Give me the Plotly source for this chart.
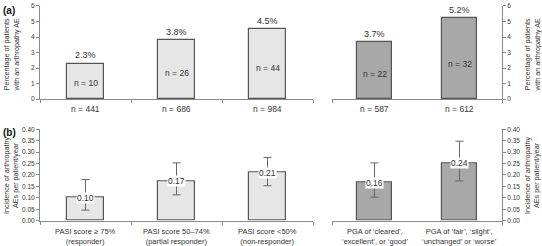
import plotly.graph_objects as go

# ---- data ----
top_left_cats = ["n = 441", "n = 686", "n = 984"]
top_right_cats = ["n = 587", "n = 612"]
top_left_pct = [2.3, 3.8, 4.5]
top_right_pct = [3.7, 5.2]
top_left_events = ["n = 10", "n = 26", "n = 44"]
top_right_events = ["n = 22", "n = 32"]

bot_left_cats = ["PASI score \u2265 75%<br>(responder)",
                 "PASI score 50\u201374%<br>(partial responder)",
                 "PASI score <50%<br>(non-responder)"]
bot_right_cats = ["PGA of \u2018cleared\u2019,<br>\u2018excellent\u2019, or \u2018good\u2019",
                  "PGA of \u2018fair\u2019, \u2018slight\u2019,<br>\u2018unchanged\u2019 or \u2018worse\u2019"]
bot_left_rate = [0.10, 0.173, 0.21]
bot_right_rate = [0.166, 0.252]
bot_left_labels = ["0.10", "0.17", "0.21"]
bot_right_labels = ["0.16", "0.24"]
bot_left_upper = [0.18, 0.253, 0.277]
bot_left_lower = [0.046, 0.113, 0.153]
bot_right_upper = [0.253, 0.348]
bot_right_lower = [0.103, 0.174]

LIGHT = "#e6e6e6"
DARK = "#a8a8a8"
EDGE = "#555555"
AXIS = "#8a8a8a"
TXT = "#333333"
FONT = "Liberation Sans, Arial, sans-serif"

W, H = 542, 246
def px(x): return x / W
def py(y): return 1 - y / H

fig = go.Figure()

def add_bars(cats, vals, color, xa, ya, width, err=None):
    kw = {}
    if err is not None:
        up, lo = err
        kw["error_y"] = dict(type="data", symmetric=False,
                             array=[u - v for u, v in zip(up, vals)],
                             arrayminus=[v - l for v, l in zip(vals, lo)],
                             color="#666666", thickness=1, width=4)
    fig.add_trace(go.Bar(x=cats, y=vals, xaxis=xa, yaxis=ya, width=width,
                         marker=dict(color=color, line=dict(color=EDGE, width=1.2)),
                         showlegend=False, hoverinfo="skip", **kw))

add_bars(top_left_cats, top_left_pct, LIGHT, "x", "y", 0.4)
add_bars(top_right_cats, top_right_pct, DARK, "x2", "y2", 0.41)
add_bars(bot_left_cats, bot_left_rate, LIGHT, "x3", "y3", 0.4, (bot_left_upper, bot_left_lower))
add_bars(bot_right_cats, bot_right_rate, DARK, "x4", "y4", 0.41, (bot_right_upper, bot_right_lower))

ann = []
def pct_labels(cats, vals, events, xr, yr):
    for c, v, e in zip(cats, vals, events):
        ann.append(dict(x=c, y=v, xref=xr, yref=yr, text=f"{v:.1f}%", showarrow=False,
                        yanchor="bottom", yshift=1, font=dict(size=9, color=TXT, family=FONT)))
        ann.append(dict(x=c, y=v * 0.44, xref=xr, yref=yr, text=e, showarrow=False,
                        font=dict(size=8.5, color=TXT, family=FONT)))
        # sample size under the axis
        ann.append(dict(x=c, y=py(101), xref=xr, yref="paper", text=c, showarrow=False,
                        yanchor="top", font=dict(size=8.5, color=TXT, family=FONT)))
pct_labels(top_left_cats, top_left_pct, top_left_events, "x", "y")
pct_labels(top_right_cats, top_right_pct, top_right_events, "x2", "y2")

def rate_labels(cats, vals, labels, xr, yr):
    for c, v, l in zip(cats, vals, labels):
        ann.append(dict(x=c, y=v, xref=xr, yref=yr, text=l, showarrow=False,
                        bgcolor="white", borderpad=0,
                        font=dict(size=8.5, color=TXT, family=FONT)))
        ann.append(dict(x=c, y=py(227), xref=xr, yref="paper", text=c, showarrow=False,
                        yanchor="top", font=dict(size=7.5, color=TXT, family=FONT)))
rate_labels(bot_left_cats, bot_left_rate, bot_left_labels, "x3", "y3")
rate_labels(bot_right_cats, bot_right_rate, bot_right_labels, "x4", "y4")

# panel labels and axis titles
ann.append(dict(x=px(1), y=py(7), xref="paper", yref="paper", text="<b>(a)</b>", showarrow=False,
                xanchor="left", yanchor="middle", font=dict(size=10, color="#111", family=FONT)))
ann.append(dict(x=px(1), y=py(132), xref="paper", yref="paper", text="<b>(b)</b>", showarrow=False,
                xanchor="left", yanchor="middle", font=dict(size=10, color="#111", family=FONT)))
for xp, yp, t in [(11, 52, "Percentage of patients<br>with an arthropathy AE"),
                  (532, 52, "Percentage of patients<br>with an arthropathy AE"),
                  (11, 176, "Incidence of arthropathy<br>AEs per patient/year"),
                  (532, 176, "Incidence of arthropathy<br>AEs per patient/year")]:
    ann.append(dict(x=px(xp), y=py(yp), xref="paper", yref="paper", text=t, showarrow=False,
                    xanchor="center", yanchor="middle",
                    textangle=-90, font=dict(size=7.2, color=TXT, family=FONT)))

xbase = dict(showline=True, linecolor=AXIS, linewidth=1, ticks="outside",
             ticklen=3, tickcolor=AXIS, showgrid=False, zeroline=False, showticklabels=False,
             fixedrange=True)
xleft = dict(tickson="boundaries", **xbase)
xright = dict(tickmode="array", tickvals=[-0.5, 1.5], range=[-0.5, 1.5], **xbase)
ycommon = dict(showline=True, linecolor=AXIS, linewidth=1, ticks="outside", ticklen=3,
               tickcolor=AXIS, showgrid=False, zeroline=False,
               tickfont=dict(size=6.5, color=TXT, family=FONT), fixedrange=True)

top_dom = [py(98), py(2)]
bot_dom = [py(223), py(129)]
left_dom = [px(40), px(313)]
right_dom = [px(332), px(502)]

fig.update_layout(
    width=W, height=H, margin=dict(l=0, r=0, t=0, b=0),
    paper_bgcolor="white", plot_bgcolor="white", bargap=0,
    font=dict(family=FONT, color=TXT),
    xaxis=dict(domain=left_dom, anchor="y", **xleft),
    xaxis2=dict(domain=right_dom, anchor="y2", **xright),
    xaxis3=dict(domain=left_dom, anchor="y3", **xleft),
    xaxis4=dict(domain=right_dom, anchor="y4", **xright),
    yaxis=dict(domain=top_dom, anchor="x", range=[0, 6], dtick=1, **ycommon),
    yaxis2=dict(domain=top_dom, anchor="x2", side="right", range=[0, 6], dtick=1, **ycommon),
    yaxis3=dict(domain=bot_dom, anchor="x3", range=[0, 0.4], dtick=0.05, tickformat=".2f", **ycommon),
    yaxis4=dict(domain=bot_dom, anchor="x4", side="right", range=[0, 0.4], dtick=0.05, tickformat=".2f", **ycommon),
    annotations=ann,
)

fig.write_html("out.html", config={"displayModeBar": False},
               post_script="document.body.style.margin='0';document.body.style.overflow='hidden';")
